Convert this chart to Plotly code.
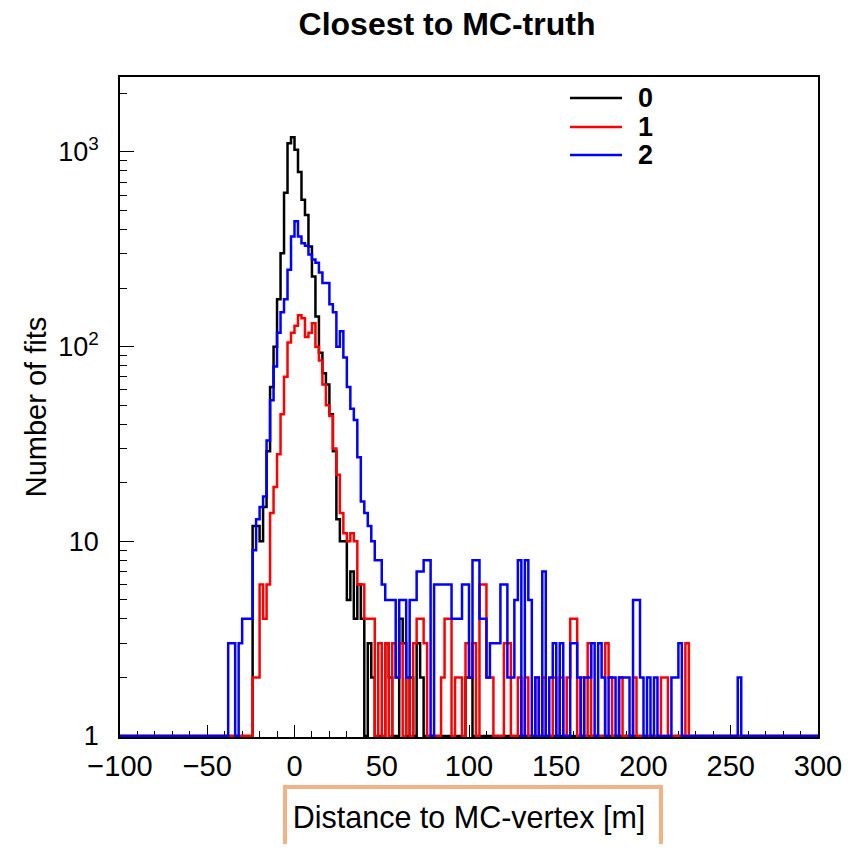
import numpy as np
import plotly.graph_objects as go

# ---------------- data (bins of 2 m from -100 m to 300 m) ----------------
BIN_LOW = -100.0
BIN_WIDTH = 2.0
N_BINS = 200

SERIES_NAMES = ["0", "1", "2"]
SERIES_COLORS = ["#000000", "#ff0000", "#0000ff"]

# one row = 10 bins = 20 m
counts_0 = (
    [0] * 10 + [0] * 10 + [0] * 10 +
    [0, 0, 0, 0, 0, 0, 0, 0, 12, 12] +                         # -40..-20
    [10, 15, 29, 62, 100, 175, 302, 617, 1110, 1190] +         # -20..0
    [1025, 790, 568, 475, 327, 229, 143, 93, 73, 64] +         # 0..20
    [45, 29, 13, 10, 10, 5, 7, 4, 6, 4] +                      # 20..40
    [1, 3, 2, 1, 0, 0, 3, 2, 0, 0] +                           # 40..60
    [4, 3, 1, 2, 0, 3, 2, 0, 0, 0] +                           # 60..80
    [0, 0, 0, 0, 0, 0, 0, 0, 0, 2] +                           # 80..100
    [2, 0, 0, 0, 0, 0, 0, 0, 0, 0] +                           # 100..120
    [0] * 90                                                   # 120..300
)

counts_1 = (
    [0] * 10 + [0] * 10 + [0] * 10 +
    [0, 0, 0, 0, 0, 0, 0, 0, 2, 2] +                           # -40..-20
    [6, 4, 6, 14, 19, 28, 45, 70, 105, 118] +                  # -20..0
    [128, 145, 140, 112, 118, 132, 100, 85, 64, 50] +          # 0..20
    [44, 30, 22, 14, 11, 10, 11, 10, 6, 6] +                   # 20..40
    [4, 4, 4, 1, 3, 1, 3, 1, 3, 2] +                           # 40..60
    [3, 1, 2, 1, 3, 4, 4, 3, 1, 0] +                           # 60..80
    [0, 1, 2, 4, 4, 1, 2, 2, 1, 3] +                           # 80..100
    [2, 3, 1, 6, 6, 2, 2, 1, 0, 1] +                           # 100..120
    [3, 3, 0, 1, 2, 0, 2, 1, 0, 2] +                           # 120..140
    [1, 2, 0, 1, 2, 0, 2, 1, 2, 4] +                           # 140..160
    [4, 1, 2, 0, 3, 1, 0, 1, 0, 3] +                           # 160..180
    [2, 1, 0, 2, 0, 0, 1, 2, 0, 1] +                           # 180..200
    [0, 0, 1, 0, 0, 2, 2, 0, 0, 0] +                           # 200..220
    [0, 0, 3, 0, 0, 0, 0, 0, 0, 0] +                           # 220..240
    [0] * 30                                                   # 240..300
)

counts_2 = (
    [0] * 10 + [0] * 10 + [0] * 10 +
    [0, 3, 3, 1, 3, 4, 4, 4, 9, 13] +                          # -40..-20
    [15, 17, 33, 53, 79, 118, 150, 175, 248, 368] +            # -20..0
    [440, 368, 340, 330, 297, 280, 270, 240, 212, 212] +       # 0..20
    [165, 150, 100, 120, 88, 62, 48, 42, 27, 16] +             # 20..40
    [14, 12, 10, 8, 8, 6, 5, 5, 5, 2] +                        # 40..60
    [5, 5, 2, 5, 5, 7, 7, 8, 8, 1] +                           # 60..80
    [6, 6, 6, 6, 6, 4, 4, 4, 6, 6] +                           # 80..100
    [2, 8, 8, 4, 4, 2, 3, 3, 3, 6] +                           # 100..120
    [6, 2, 2, 5, 8, 1, 8, 5, 1, 2] +                           # 120..140
    [1, 7, 1, 2, 3, 1, 3, 1, 1, 3] +                           # 140..160
    [3, 2, 1, 2, 2, 3, 1, 3, 2, 1] +                           # 160..180
    [2, 2, 1, 2, 2, 2, 1, 5, 5, 2] +                           # 180..200
    [1, 2, 1, 2, 1, 1, 0, 0, 2, 2] +                           # 200..220
    [3, 1, 0, 0, 0, 0, 0, 0, 0, 0] +                           # 220..240
    [0, 0, 0, 0, 0, 0, 0, 2, 0, 0] +                           # 240..260
    [0] * 20                                                   # 260..300
)

X_TICK_VALUES = [-100, -50, 0, 50, 100, 150, 200, 250, 300]
X_TICK_LABELS = ["\u2212100", "\u221250", "0", "50", "100", "150", "200", "250", "300"]
Y_TICK_VALUES = [1, 10, 100, 1000]
Y_TICK_LABELS = ["1", "10", "10<sup>2</sup>", "10<sup>3</sup>"]

TITLE = "Closest to MC-truth"
X_TITLE = "Distance to MC-vertex [m]"
Y_TITLE = "Number of fits"

# ---------------- figure ----------------
edges = BIN_LOW + BIN_WIDTH * np.arange(N_BINS + 1)
FONT = "Liberation Sans, Arial, Helvetica, sans-serif"
LINE_W = 2.5

fig = go.Figure()
for name, color, counts in zip(SERIES_NAMES, SERIES_COLORS, [counts_0, counts_1, counts_2]):
    c = np.asarray(counts, dtype=float)
    c = np.where(c < 1, 1, c)          # empty bins sit on the axis floor (log scale)
    y = np.append(c, c[-1])
    fig.add_trace(go.Scatter(
        x=edges, y=y, mode="lines", name=name,
        line=dict(color=color, width=LINE_W, shape="hv"),
        hoverinfo="skip", showlegend=False,
    ))

# page body has an 8px margin; size the figure so the plot area lands on the reference pixels
OFF = 8
W, H = 845, 836
PL, PR, PT, PB = 120, 818, 77, 737          # plot area in window pixels
L, T = PL - OFF, PT - OFF
R = OFF + W - PR
B = OFF + H - PB

minor_y = [m * 10 ** k for k in range(0, 4) for m in range(2, 10)]

fig.update_layout(
    width=W, height=H,
    margin=dict(l=L, r=R, t=T, b=B),
    paper_bgcolor="white", plot_bgcolor="white",
    font=dict(family=FONT, color="black"),
    title=dict(text=TITLE, x=(447 - OFF) / W, xanchor="center",
               y=1 - 5 / H, yanchor="top",
               font=dict(family=FONT, size=32, color="black", weight="bold")),
    showlegend=False,
    xaxis=dict(
        range=[-100, 300], showgrid=False, zeroline=False,
        showline=True, linecolor="black", linewidth=1.5, mirror=True,
        ticks="inside", ticklen=12, tickwidth=1, tickcolor="black",
        tickvals=X_TICK_VALUES, ticktext=X_TICK_LABELS,
        tickfont=dict(family=FONT, size=29, color="black"),
        ticklabelstandoff=2,
        minor=dict(ticks="inside", ticklen=6, tickwidth=1, tickcolor="black",
                   dtick=10, tick0=0, showgrid=False),
        title=dict(text=X_TITLE, font=dict(family=FONT, size=30.5, color="black"), standoff=26),
        layer="below traces",
    ),
    yaxis=dict(
        type="log", range=[-0.005, 3.385], showgrid=False, zeroline=False,
        showline=True, linecolor="black", linewidth=1.5, mirror=True,
        ticks="inside", ticklen=14, tickwidth=1, tickcolor="black",
        tickvals=Y_TICK_VALUES, ticktext=Y_TICK_LABELS,
        tickfont=dict(family=FONT, size=27, color="black"),
        ticklabelstandoff=14,
        minor=dict(ticks="inside", ticklen=7, tickwidth=1, tickcolor="black",
                   tickmode="array", tickvals=minor_y, showgrid=False),
        title=dict(text=Y_TITLE, font=dict(family=FONT, size=29, color="black"), standoff=3),
        layer="below traces",
    ),
)

pw, ph = PR - PL, PB - PT
def px_to_paper_x(px):
    return (px - PL) / pw
def px_to_paper_y(py):
    return (PB - py) / ph

# legend (ROOT TLegend style): line samples + bold labels
LEGEND_ROWS_Y = [98, 127, 155]
for name, color, ly in zip(SERIES_NAMES, SERIES_COLORS, LEGEND_ROWS_Y):
    fig.add_shape(type="line", xref="paper", yref="paper",
                  x0=px_to_paper_x(570), x1=px_to_paper_x(622),
                  y0=px_to_paper_y(ly), y1=px_to_paper_y(ly),
                  line=dict(color=color, width=LINE_W))
    fig.add_annotation(xref="paper", yref="paper", x=px_to_paper_x(636), y=px_to_paper_y(ly),
                       xanchor="left", yanchor="middle", showarrow=False, text=name,
                       font=dict(family=FONT, size=27, color="black", weight="bold"))

# orange highlight box around the x-axis title
fig.add_shape(type="rect", xref="paper", yref="paper",
              x0=px_to_paper_x(285), x1=px_to_paper_x(661),
              y0=px_to_paper_y(870), y1=px_to_paper_y(787),
              line=dict(color="rgb(244,177,131)", width=4), fillcolor="rgba(0,0,0,0)",
              layer="above")

fig.write_html("out.html")
